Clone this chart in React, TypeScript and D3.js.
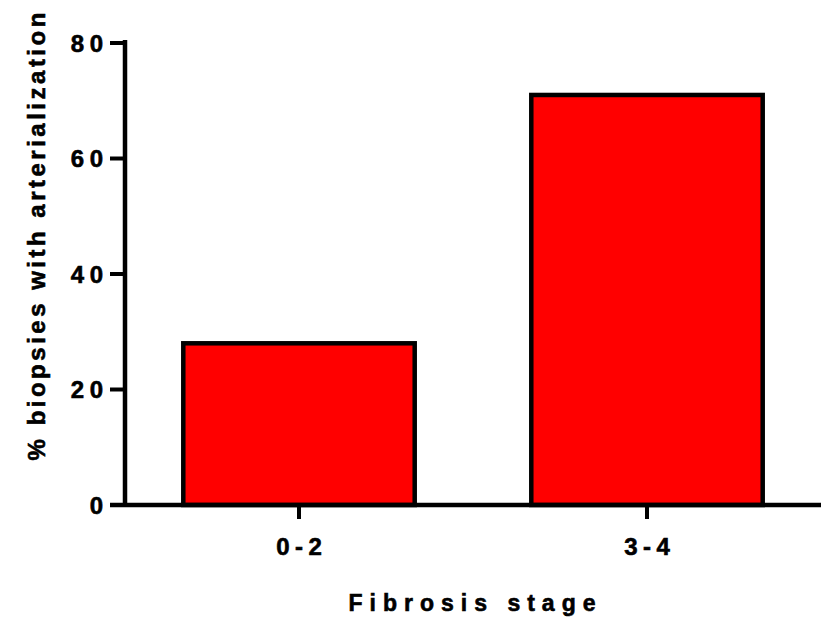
import React from 'react';
import * as d3 from 'd3';

// values
const stages = ['0-2', '3-4'];
const percentArterialized = [28, 71];
const yTicks = [0, 20, 40, 60, 80];

const W = 821;
const H = 629;
const margin = { top: 43, right: 0, bottom: 124, left: 125 };
const FONT = '"Liberation Sans", Arial, sans-serif';
// the reference's type is a bit heavier than plain bold
const heavy = { stroke: '#000', strokeWidth: 0.6 };

const App = () => {
  const plotBottom = H - margin.bottom;

  const x = d3
    .scaleBand<string>()
    .domain(stages)
    .range([margin.left, W - margin.right])
    .paddingInner(0.335)
    .paddingOuter(0.1675);

  const y = d3.scaleLinear().domain([0, 80]).range([plotBottom, margin.top]);

  const tickLS = 5.5;

  return (
    <svg width={W} height={H} style={{ position: 'absolute', left: 0, top: 0, background: '#fff' }}>
      {/* bars */}
      {stages.map((s, i) => (
        <rect
          key={s}
          x={x(s)}
          y={y(percentArterialized[i])}
          width={x.bandwidth()}
          height={plotBottom - y(percentArterialized[i])}
          fill="#ff0000"
          stroke="#000"
          strokeWidth={4.5}
        />
      ))}

      {/* y axis */}
      <line x1={margin.left} x2={margin.left} y1={margin.top - 3} y2={plotBottom + 2} stroke="#000" strokeWidth={4.5} />
      {yTicks.map((t) => (
        <g key={t}>
          <line x1={margin.left - 15} x2={margin.left} y1={y(t)} y2={y(t)} stroke="#000" strokeWidth={4} />
          <text
            x={margin.left - 22}
            y={y(t)}
            dy="0.36em"
            dx={tickLS}
            textAnchor="end"
            fontFamily={FONT}
            fontWeight="bold"
            fontSize={24}
            letterSpacing={tickLS}
            {...heavy}
          >
            {t}
          </text>
        </g>
      ))}

      {/* x axis */}
      <line x1={margin.left - 15} x2={W} y1={plotBottom} y2={plotBottom} stroke="#000" strokeWidth={4.5} />
      {stages.map((s) => {
        const cx = (x(s) as number) + x.bandwidth() / 2;
        return (
          <g key={s}>
            <line x1={cx} x2={cx} y1={plotBottom} y2={plotBottom + 14} stroke="#000" strokeWidth={4} />
            <text
              x={cx + tickLS / 2}
              y={555}
              textAnchor="middle"
              fontFamily={FONT}
              fontWeight="bold"
              fontSize={24}
              letterSpacing={tickLS}
              {...heavy}
            >
              {s}
            </text>
          </g>
        );
      })}

      {/* axis titles */}
      <text
        x={472 + 3.5}
        y={611}
        textAnchor="middle"
        fontFamily={FONT}
        fontWeight="bold"
        fontSize={23}
        letterSpacing={7}
        {...heavy}
      >
        Fibrosis stage
      </text>
      <text
        transform={`translate(45,${233 + 1.75}) rotate(-90)`}
        textAnchor="middle"
        fontFamily={FONT}
        fontWeight="bold"
        fontSize={24}
        letterSpacing={3.5}
        {...heavy}
      >
        % biopsies with arterialization
      </text>
    </svg>
  );
};

export default App;
